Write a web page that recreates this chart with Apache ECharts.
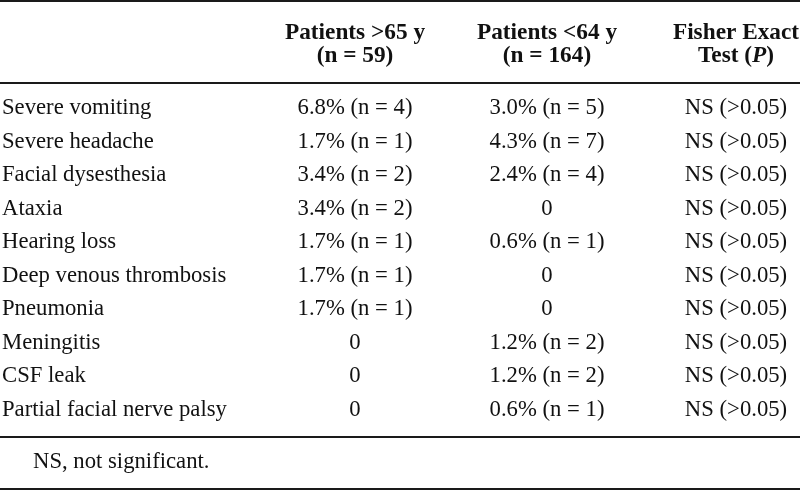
<!DOCTYPE html>
<html><head><meta charset="utf-8">
<script src="https://cdn.jsdelivr.net/npm/echarts@6/dist/echarts.min.js"></script>
<style>html,body{margin:0;padding:0;background:#fff}#c{width:800px;height:491px}</style>
</head><body><div id="c"></div>
<script>
// ---- data ----
const rowLabels = ['Severe vomiting','Severe headache','Facial dysesthesia','Ataxia','Hearing loss','Deep venous thrombosis','Pneumonia','Meningitis','CSF leak','Partial facial nerve palsy'];
const olderPatients = ['6.8% (n = 4)','1.7% (n = 1)','3.4% (n = 2)','3.4% (n = 2)','1.7% (n = 1)','1.7% (n = 1)','1.7% (n = 1)','0','0','0'];
const youngerPatients = ['3.0% (n = 5)','4.3% (n = 7)','2.4% (n = 4)','0','0.6% (n = 1)','0','0','1.2% (n = 2)','1.2% (n = 2)','0.6% (n = 1)'];
const fisherP = ['NS (>0.05)','NS (>0.05)','NS (>0.05)','NS (>0.05)','NS (>0.05)','NS (>0.05)','NS (>0.05)','NS (>0.05)','NS (>0.05)','NS (>0.05)'];
const headerLine1 = ['', 'Patients >65 y', 'Patients <64 y', 'Fisher Exact'];
const headerLine2 = ['', '(n = 59)', '(n = 164)', 'Test ({i|P})'];
const footnote = 'NS, not significant.';

// ---- layout ----
const FONT = '"Liberation Serif","Times New Roman",serif';
const FS = 22.7;
const HFS = 23.3;
const TXT = '#111';
const colX = [2, 355, 547, 736];
const columns = [rowLabels, olderPatients, youngerPatients, fisherP];

const cells = [];
columns.forEach((col, c) => col.forEach((t, r) => cells.push([c, r, t])));

const chart = echarts.init(document.getElementById('c'));
const lineStyle = {stroke: '#1a1a1a', lineWidth: 2};
const graphics = [
  {type:'line', shape:{x1:0,y1:1,x2:800,y2:1}, style:lineStyle},
  {type:'line', shape:{x1:0,y1:83,x2:800,y2:83}, style:lineStyle},
  {type:'line', shape:{x1:0,y1:437,x2:800,y2:437}, style:lineStyle},
  {type:'line', shape:{x1:0,y1:489,x2:800,y2:489}, style:lineStyle},
  {type:'text', x:33, y:462, style:{text:footnote, font:`${FS}px ${FONT}`, fill:TXT, textVerticalAlign:'middle'}}
];
for (let c = 1; c < 4; c++) {
  graphics.push({type:'text', x:colX[c], y:33, style:{text:headerLine1[c], font:`bold ${HFS}px ${FONT}`, fill:TXT, textAlign:'center', textVerticalAlign:'middle'}});
  graphics.push({type:'text', x:colX[c], y:56, style:{text:headerLine2[c], font:`bold ${HFS}px ${FONT}`, fill:TXT, textAlign:'center', textVerticalAlign:'middle',
    rich:{i:{fontStyle:'italic', fontWeight:'bold', fontSize:HFS, fontFamily:FONT, fill:TXT}}}});
}

chart.setOption({
  animation:false,
  backgroundColor:'#fff',
  grid:{left:0,right:0,top:91.5,bottom:64.5},
  xAxis:{type:'value',min:0,max:800,show:false},
  yAxis:{type:'category',data:rowLabels,inverse:true,show:false},
  series:[{
    type:'custom',
    data: cells.map(d => [d[0], d[1]]),
    renderItem:(params, api) => {
      const d = cells[params.dataIndex];
      const p = api.coord([colX[d[0]], d[1]]);
      return {type:'text', x:p[0], y:p[1], style:{text:d[2], font:`${FS}px ${FONT}`, fill:TXT,
        textAlign: d[0] === 0 ? 'left' : 'center', textVerticalAlign:'middle'}};
    }
  }],
  graphic: graphics
});
</script></body></html>
